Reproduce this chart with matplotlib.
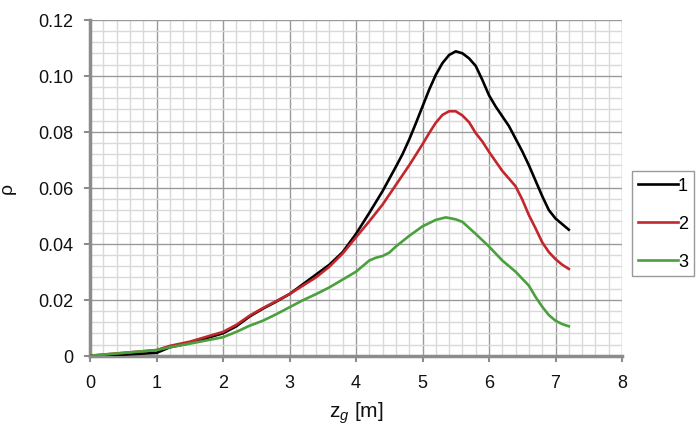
import matplotlib
matplotlib.use("Agg")
import matplotlib.pyplot as plt
from matplotlib.ticker import MultipleLocator

plt.rcParams['font.family'] = ['Liberation Sans', 'DejaVu Sans']
plt.rcParams['mathtext.fontset'] = 'custom'
plt.rcParams['mathtext.rm'] = 'Liberation Sans'
plt.rcParams['mathtext.it'] = 'Liberation Sans:italic'

x1 = [0, 0.5, 1.0, 1.1, 1.2, 1.5, 2.0, 2.2, 2.4, 2.6, 2.8, 3.0, 3.2, 3.4, 3.6, 3.8,
      4.0, 4.2, 4.4, 4.6, 4.7, 4.8, 4.9, 5.0, 5.1, 5.2, 5.3, 5.4, 5.5, 5.6, 5.7, 5.8,
      5.9, 6.0, 6.1, 6.2, 6.3, 6.4, 6.5, 6.6, 6.7, 6.8, 6.9, 7.0, 7.1, 7.2]
rho1 = [0, 0.0004, 0.001, 0.002, 0.003, 0.0045, 0.008, 0.0105, 0.014, 0.0168, 0.0193,
        0.022, 0.0255, 0.029, 0.0325, 0.037, 0.0435, 0.051, 0.0588, 0.0675, 0.072,
        0.0772, 0.083, 0.089, 0.095, 0.1003, 0.1045, 0.1074, 0.1087, 0.108, 0.1062,
        0.1035, 0.0985, 0.093, 0.089, 0.0855, 0.082, 0.0775, 0.073, 0.068, 0.0625,
        0.057, 0.052, 0.049, 0.047, 0.045]

x2 = [0, 0.5, 1.0, 1.2, 1.5, 2.0, 2.2, 2.4, 2.6, 2.8, 3.0, 3.2, 3.4, 3.6, 3.8,
      4.0, 4.2, 4.4, 4.6, 4.8, 5.0, 5.1, 5.2, 5.3, 5.4, 5.5, 5.6, 5.7, 5.8, 5.9,
      6.0, 6.2, 6.4, 6.5, 6.6, 6.7, 6.8, 6.9, 7.0, 7.1, 7.2]
rho2 = [0, 0.001, 0.002, 0.0035, 0.005, 0.0085, 0.011, 0.0143, 0.017, 0.0195, 0.022,
        0.025, 0.028, 0.0318, 0.0365, 0.0423, 0.048, 0.054, 0.061, 0.068, 0.0755,
        0.0795, 0.0832, 0.086, 0.0873, 0.0873, 0.0858, 0.0834, 0.0795, 0.0765, 0.0728,
        0.066, 0.0605, 0.0558, 0.0502, 0.0455, 0.0405, 0.037, 0.0345, 0.0325, 0.031]

x3 = [0, 0.5, 1.0, 1.2, 1.5, 2.0, 2.2, 2.4, 2.6, 2.8, 3.0, 3.2, 3.4, 3.6, 3.8,
      4.0, 4.1, 4.2, 4.3, 4.4, 4.5, 4.6, 4.8, 5.0, 5.2, 5.35, 5.5, 5.6, 5.8, 6.0,
      6.2, 6.4, 6.6, 6.7, 6.8, 6.9, 7.0, 7.1, 7.2]
rho3 = [0, 0.001, 0.002, 0.003, 0.0043, 0.0066, 0.0085, 0.0107, 0.0125, 0.0148, 0.0173,
        0.0198, 0.022, 0.0244, 0.0272, 0.030, 0.032, 0.034, 0.035, 0.0356, 0.0368,
        0.039, 0.0428, 0.0462, 0.0485, 0.0494, 0.0487, 0.0478, 0.0435, 0.039, 0.034,
        0.030, 0.025, 0.021, 0.0175, 0.0145, 0.0125, 0.0113, 0.0105]

labels = ['1', '2', '3']
colors = ['#000000', '#c1272d', '#4ba03e']
yticks = [0, 0.02, 0.04, 0.06, 0.08, 0.10, 0.12]
yticklabels = ['0', '0.02', '0.04', '0.06', '0.08', '0.10', '0.12']

fig = plt.figure(figsize=(6.96, 4.27), dpi=100)
ax = fig.add_axes([90/696, (427-356.7)/427, (622-90)/696, (356.7-20.7)/427])

for xs, ys, lab, c in zip([x1, x2, x3], [rho1, rho2, rho3], labels, colors):
    ax.plot(xs, ys, color=c, lw=1.9, label=lab, solid_joinstyle='round', zorder=3)

ax.set_xlim(0, 8)
ax.set_ylim(0, 0.12)
ax.xaxis.set_major_locator(MultipleLocator(1))
ax.xaxis.set_minor_locator(MultipleLocator(0.2))
ax.yaxis.set_minor_locator(MultipleLocator(0.004))
ax.set_yticks(yticks)
ax.set_yticklabels(yticklabels)

ax.grid(which='minor', color='#d9d9d9', lw=1.0, zorder=0)
ax.grid(which='major', color='#9a9a9a', lw=1.0, zorder=1)
ax.set_axisbelow(True)

for s in ['top', 'right']:
    ax.spines[s].set_visible(False)
for s in ['left', 'bottom']:
    ax.spines[s].set_color('#8c8c8c')
    ax.spines[s].set_linewidth(2.5)
ax.tick_params(which='major', direction='out', length=4, width=1.5, color='#8c8c8c',
               labelsize=13, labelcolor='#111111')
ax.tick_params(axis='x', which='major', pad=9)
ax.tick_params(axis='y', which='major', pad=8)
ax.tick_params(which='minor', length=0)

ax.set_xlabel(r'$\mathrm{z}_{\mathit{g}}$ [m]', fontsize=15, labelpad=6, color='#111111')
ax.set_ylabel('ρ', fontsize=14, labelpad=16, color='#111111')

leg = ax.legend(loc='upper left', bbox_to_anchor=(632/696, (427-172)/427),
                bbox_transform=fig.transFigure, frameon=True, fancybox=False,
                edgecolor='#808080', fontsize=13, handlelength=2.2,
                handletextpad=0.0, labelspacing=1.15, borderpad=0.35,
                borderaxespad=0)
leg.get_frame().set_linewidth(1.0)

fig.savefig('out.png', dpi=100)
